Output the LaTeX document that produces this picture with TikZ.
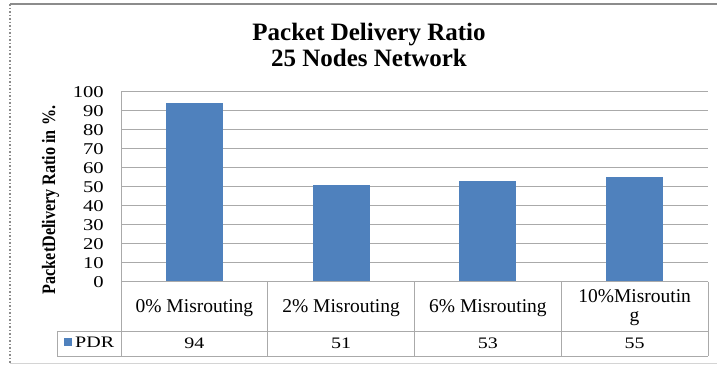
\documentclass[tikz,border=0pt]{standalone}
\usepackage{fontspec}
\setmainfont{Liberation Serif}
\usepackage{graphicx}
\definecolor{barblue}{RGB}{79,129,189}
\definecolor{gridgray}{RGB}{170,170,170}
\definecolor{framegray}{RGB}{140,140,140}
\newcommand{\wdg}[1]{\scalebox{1.25}[1]{#1}}
\begin{document}
\begin{tikzpicture}[x=1pt,y=-1pt,
  gridline/.style={draw=gridgray, line width=1pt},
  tbl/.style={draw=gridgray, line width=1pt},
  barfill/.style={fill=barblue},
  titletext/.style={font=\fontsize{25}{25}\selectfont\bfseries, inner sep=0pt, anchor=base},
  ticklbl/.style={font=\fontsize{16.5}{16.5}\selectfont, inner sep=0pt, anchor=base east},
  catlbl/.style={font=\fontsize{19.5}{19.5}\selectfont, inner sep=0pt, anchor=base},
  vallbl/.style={font=\fontsize{16}{16}\selectfont, inner sep=0pt, anchor=base},
]
\useasboundingbox (0,0) rectangle (717,364);
\fill[white] (0,0) rectangle (717,364);
% outer chart frame
\draw[framegray, line width=1.5pt] (10,4) -- (717,4);
\draw[framegray, line width=1.5pt, dotted] (10,4) -- (10,364);
\draw[gridgray!50, line width=1pt] (10,363) -- (717,363);
% title
\node[titletext] (title1) at (369,40) {Packet Delivery Ratio};
\node[titletext] (title2) at (369,66) {25 Nodes Network};
% gridlines
\foreach \v in {10,20,...,100}
  \draw[gridline] (121,{281.7-1.9*\v}) -- (708,{281.7-1.9*\v});
% tick labels
\foreach \v in {0,10,...,100}
  \node[ticklbl] (t\v) at (104,{281.7-1.9*\v+5.4}) {\wdg{\v}};
% y axis title
\node[font=\fontsize{19}{19}\selectfont\bfseries, inner sep=0pt, anchor=base, rotate=90] (ytitle) at (55,200) {\scalebox{0.85}[1]{PacketDelivery Ratio in \%.}};
% bars
\foreach \c/\v in {194.4/94, 341.1/51, 487.9/53, 634.6/55}
  \fill[barfill] ({\c-28.5},{281.7-1.9*\v}) rectangle ({\c+28.5},281.7);
% table
\draw[tbl] (121,281.7) -- (708,281.7);
\draw[tbl] (57,331) -- (708,331);
\draw[tbl] (57,356) -- (708,356);
\draw[tbl] (121,91.7) -- (121,356);
\draw[tbl] (57,331) -- (57,356);
\foreach \x in {267.75,414.5,561.25,708}
  \draw[tbl] (\x,281.7) -- (\x,356);
% category labels
\node[catlbl] (c0) at (194.4,312) {0\% Misrouting};
\node[catlbl] (c2) at (341.1,312) {2\% Misrouting};
\node[catlbl] (c6) at (487.9,312) {6\% Misrouting};
\node[catlbl] (c10a) at (634.6,302) {10\%Misroutin};
\node[catlbl] (c10b) at (634.6,321) {g};
% legend key
\fill[barfill] (63.5,338) rectangle (71.5,346);
\node[vallbl, anchor=base west] (pdr) at (75,347) {\wdg{PDR}};
% values
\node[vallbl] (v0) at (194.4,348) {\wdg{94}};
\node[vallbl] (v2) at (341.1,348) {\wdg{51}};
\node[vallbl] (v6) at (487.9,348) {\wdg{53}};
\node[vallbl] (v10) at (634.6,348) {\wdg{55}};
\end{tikzpicture}
\end{document}
